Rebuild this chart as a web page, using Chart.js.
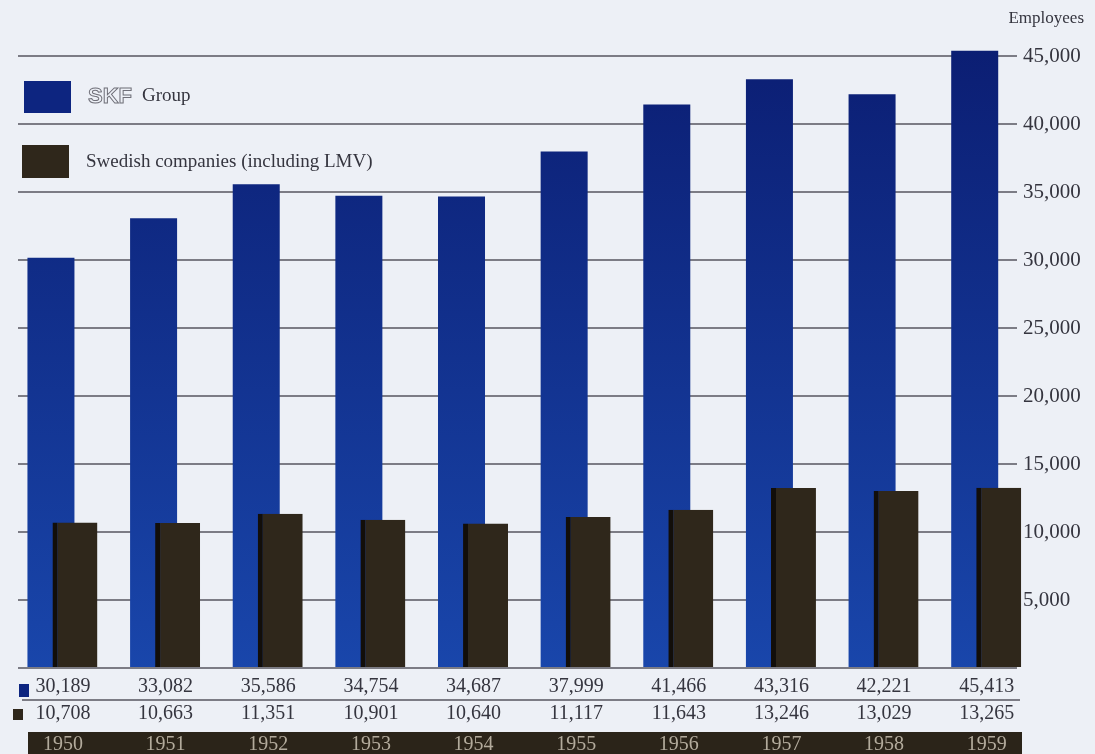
<!DOCTYPE html>
<html>
<head>
<meta charset="utf-8">
<title>SKF employees 1950–1959</title>
<script src="https://cdn.jsdelivr.net/npm/chart.js@4.4.1/dist/chart.umd.min.js"></script>
<style>
  html, body { margin: 0; padding: 0; background: #edf0f6; }
  #wrap { width: 1095px; height: 754px; position: relative; }
</style>
</head>
<body>
<div id="wrap"><canvas id="chart"></canvas></div>
<script>
// ---- data -------------------------------------------------------------
const years = [1950, 1951, 1952, 1953, 1954, 1955, 1956, 1957, 1958, 1959];
const skfGroup = [30189, 33082, 35586, 34754, 34687, 37999, 41466, 43316, 42221, 45413];
const swedishCompanies = [10708, 10663, 11351, 10901, 10640, 11117, 11643, 13246, 13029, 13265];
const seriesNames = ['SKF Group', 'Swedish companies (including LMV)'];
const yTickValues = [0, 5000, 10000, 15000, 20000, 25000, 30000, 35000, 40000, 45000];
const axisTitle = 'Employees';

// ---- styling ----------------------------------------------------------
const SERIF = '"Liberation Serif", "DejaVu Serif", serif';
const INK = '#35353f';
const PAPER = '#edf0f6';
const BLUE_TOP = '#0b1d72';
const BLUE_BOTTOM = '#1946ab';
const BLUE_KEY = '#0d2580';
const BROWN = '#2f271b';
const BROWN_EDGE = '#120e0a';
const GRID = 'rgba(95, 95, 105, 0.8)';
const fmt = v => v.toLocaleString('en-US');

// horizontal extent of the year axis (in years) and the half-shift of each
// series so the dark bar sits over the right half of the blue one
const X_MIN = years[0] - 0.438;
const X_MAX = years[years.length - 1] + 0.295;
const SHIFT = 0.117;

function blueFill(ctx) {
  const chart = ctx.chart;
  const area = chart.chartArea;
  if (!area) return BLUE_BOTTOM;
  const g = chart.ctx.createLinearGradient(0, area.top, 0, area.bottom);
  g.addColorStop(0, BLUE_TOP);
  g.addColorStop(1, BLUE_BOTTOM);
  return g;
}

// paper background
const backdrop = {
  id: 'backdrop',
  beforeDraw(chart) {
    const c = chart.ctx;
    c.save();
    c.fillStyle = PAPER;
    c.fillRect(0, 0, chart.width, chart.height);
    c.restore();
  }
};

// key boxes in the upper-left band between the top grid lines
const keyBoxes = {
  id: 'keyBoxes',
  afterDatasetsDraw(chart) {
    const c = chart.ctx;
    c.save();
    c.fillStyle = BLUE_KEY;
    c.fillRect(24, 81, 47, 32);
    c.fillStyle = BROWN;
    c.fillRect(22, 145, 47, 33);

    c.textBaseline = 'middle';
    c.textAlign = 'left';
    // outlined company mark
    c.font = 'bold 22px "Liberation Sans", "DejaVu Sans", sans-serif';
    c.strokeStyle = '#6f6f78';
    c.lineWidth = 1;
    const mark = seriesNames[0].split(' ')[0];
    const rest = seriesNames[0].slice(mark.length + 1);
    c.strokeText(mark, 88, 97);
    const mw = c.measureText(mark).width;
    c.fillStyle = INK;
    c.font = '19px ' + SERIF;
    c.fillText(rest, 88 + mw + 10, 96);
    c.fillText(seriesNames[1], 86, 162);
    c.restore();
  }
};

// value table, year band and axis title
const valueTable = {
  id: 'valueTable',
  afterDraw(chart) {
    const c = chart.ctx;
    const xs = chart.scales.x;
    c.save();

    // axis title
    c.fillStyle = INK;
    c.font = '17px ' + SERIF;
    c.textAlign = 'right';
    c.textBaseline = 'middle';
    c.fillText(axisTitle, 1084, 19);

    // separator between the two rows
    c.strokeStyle = GRID;
    c.lineWidth = 2;
    c.beginPath();
    c.moveTo(22, 700);
    c.lineTo(1020, 700);
    c.stroke();

    // row markers
    c.fillStyle = BLUE_KEY;
    c.fillRect(19, 684, 10, 13);
    c.fillStyle = BROWN;
    c.fillRect(13, 709, 10, 11);

    // year band
    c.fillStyle = '#2b2419';
    c.fillRect(28, 732, 994, 22);

    c.textAlign = 'center';
    c.font = '20px ' + SERIF;
    years.forEach((yr, i) => {
      const x = xs.getPixelForValue(yr);
      c.fillStyle = INK;
      c.fillText(fmt(skfGroup[i]), x, 687);
      c.fillText(fmt(swedishCompanies[i]), x, 714);
      c.fillStyle = '#b3ab9c';
      c.fillText(String(yr), x, 745);
    });
    c.restore();
  }
};

const toPoints = arr => arr.map((v, i) => ({ x: years[i], y: v }));
const yearAxis = (lo, hi) => ({
  type: 'linear', display: false, offset: false, bounds: 'data',
  min: lo, max: hi, grid: { display: false, offset: false }
});

new Chart(document.getElementById('chart'), {
  type: 'bar',
  data: {
    datasets: [
      {
        label: seriesNames[0],
        data: toPoints(skfGroup),
        xAxisID: 'xLeft',
        backgroundColor: blueFill,
        grouped: false,
        categoryPercentage: 1,
        barPercentage: 0.458,
        order: 1,
        clip: false
      },
      {
        label: seriesNames[1],
        data: toPoints(swedishCompanies),
        xAxisID: 'xRight',
        backgroundColor: BROWN,
        borderColor: BROWN_EDGE,
        borderWidth: { left: 5, top: 0, right: 0, bottom: 0 },
        borderSkipped: false,
        grouped: false,
        categoryPercentage: 1,
        barPercentage: 0.438,
        order: 0,
        clip: false
      }
    ]
  },
  options: {
    responsive: true,
    maintainAspectRatio: false,
    animation: false,
    layout: { padding: { left: 18, right: 0, top: 36, bottom: 86 } },
    plugins: {
      legend: { display: false },
      tooltip: { enabled: false },
      title: { display: false }
    },
    scales: {
      x: yearAxis(X_MIN, X_MAX),
      xLeft: yearAxis(X_MIN + SHIFT, X_MAX + SHIFT),
      xRight: yearAxis(X_MIN - SHIFT, X_MAX - SHIFT),
      y: {
        position: 'right',
        min: 0,
        max: 46500,
        afterBuildTicks(scale) {
          scale.ticks = yTickValues.map(v => ({ value: v }));
        },
        afterFit(scale) { scale.width = 78; },
        border: { display: false },
        grid: {
          color: GRID,
          lineWidth: 2,
          drawTicks: false
        },
        ticks: {
          padding: 6,
          color: INK,
          font: { family: SERIF, size: 21 },
          callback: v => (v === 0 ? '' : fmt(v))
        }
      }
    }
  },
  plugins: [backdrop, keyBoxes, valueTable]
});
</script>
</body>
</html>
